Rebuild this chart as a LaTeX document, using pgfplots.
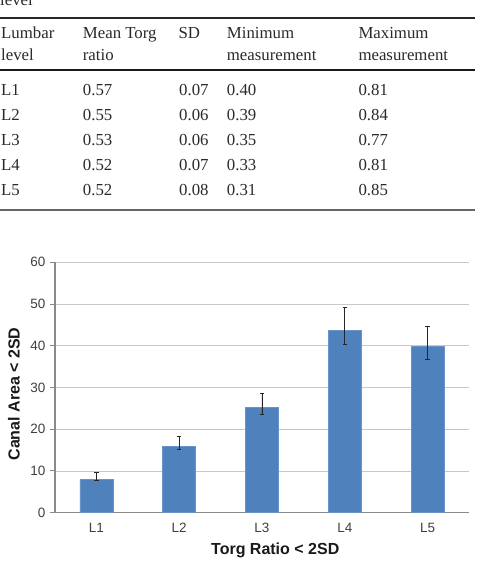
\documentclass[border=0pt]{standalone}
\usepackage{fontspec}
\setmainfont{Liberation Serif}
\newfontfamily\arial{Liberation Sans}
\usepackage{pgfplots}
\usepackage{pgfplotstable}
\pgfplotsset{compat=1.18}
\definecolor{barblue}{HTML}{4F81BD}
\definecolor{gridgray}{HTML}{C8C8C8}
\definecolor{axisgray}{HTML}{8A8A8A}
\definecolor{ticktext}{HTML}{404040}
\definecolor{tabtext}{HTML}{2A2A2A}
\pgfplotstableread{
x y ep em
0 8.0 1.7 0.3
1 15.9 2.4 0.7
2 25.2 3.3 1.6
3 43.7 5.4 3.4
4 39.8 4.8 3.1
}\canaldata
\begin{document}
\begin{tikzpicture}[x=1pt,y=1pt]
\useasboundingbox (0pt,0pt) rectangle (477pt,-565pt);
% table
\begin{scope}[every node/.style={anchor=base west, inner sep=0pt, text=tabtext, font=\fontsize{16.8}{20}\selectfont}]
\node at (0pt,-5.5pt) {level};
\draw[color=black!85, line width=1.4pt] (0pt,-18pt) -- (475pt,-18pt);
\node at (1pt,-38.3pt) {Lumbar};
\node at (1pt,-60pt) {level};
\node at (82.7pt,-38.3pt) {Mean Torg};
\node at (82.7pt,-60pt) {ratio};
\node at (178.3pt,-38.3pt) {SD};
\node at (226.7pt,-38.3pt) {Minimum};
\node at (226.7pt,-60pt) {measurement};
\node at (358.3pt,-38.3pt) {Maximum};
\node at (358.3pt,-60pt) {measurement};
\draw[color=black!90, line width=2pt] (0pt,-70.3pt) -- (475pt,-70.3pt);
\node at (1pt,-95.7pt) {L1}; \node at (82.7pt,-95.7pt) {0.57}; \node at (179pt,-95.7pt) {0.07}; \node at (226.7pt,-95.7pt) {0.40}; \node at (358.3pt,-95.7pt) {0.81};
\node at (1pt,-120.7pt) {L2}; \node at (82.7pt,-120.7pt) {0.55}; \node at (179pt,-120.7pt) {0.06}; \node at (226.7pt,-120.7pt) {0.39}; \node at (358.3pt,-120.7pt) {0.84};
\node at (1pt,-145.6pt) {L3}; \node at (82.7pt,-145.6pt) {0.53}; \node at (179pt,-145.6pt) {0.06}; \node at (226.7pt,-145.6pt) {0.35}; \node at (358.3pt,-145.6pt) {0.77};
\node at (1pt,-170.6pt) {L4}; \node at (82.7pt,-170.6pt) {0.52}; \node at (179pt,-170.6pt) {0.07}; \node at (226.7pt,-170.6pt) {0.33}; \node at (358.3pt,-170.6pt) {0.81};
\node at (1pt,-195.6pt) {L5}; \node at (82.7pt,-195.6pt) {0.52}; \node at (179pt,-195.6pt) {0.08}; \node at (226.7pt,-195.6pt) {0.31}; \node at (358.3pt,-195.6pt) {0.85};
\draw[color=black!60, line width=1.5pt] (0pt,-210pt) -- (475pt,-210pt);
\end{scope}
% chart
\begin{axis}[
  at={(55pt,-512.7pt)}, anchor=south west,
  scale only axis, width=414pt, height=250.4pt,
  xmin=-0.5, xmax=4.5, ymin=0, ymax=60,
  axis x line*=bottom, axis y line*=left,
  axis line style={color=axisgray, line width=1.2pt},
  xtick=data, xticklabels={L1,L2,L3,L4,L5},
  xtick style={draw=none},
  ytick={0,10,...,60},
  ytick style={color=axisgray, line width=1pt},
  tick align=outside, major tick length=5pt,
  ymajorgrids, grid style={color=gridgray, line width=0.9pt},
  /pgf/number format/assume math mode=true,
  ticklabel style={font=\arial\fontsize{13.5}{15}\selectfont, text=ticktext},
  xticklabel style={yshift=-1.5pt},
  yticklabel style={xshift=-1pt},
  xlabel={Torg Ratio < 2SD},
  ylabel={Canal Area < 2SD},
  label style={font=\arial\bfseries\fontsize{16}{18}\selectfont, text=black!90},
  xlabel style={at={(axis description cs:0.532,-0.149)}, anchor=center},
  ylabel style={at={(axis description cs:-0.099,0.474)}, anchor=center, rotate=0},
]
\addplot[ybar, bar width=0.4, fill=barblue, draw=barblue!85!white, line width=0.6pt,
  error bars/.cd, y dir=both, y explicit,
  error bar style={color=black!85, line width=0.9pt},
  error mark options={rotate=90, mark size=2.2pt, color=black!85, line width=0.9pt}]
  table[x=x, y=y, y error plus=ep, y error minus=em] {\canaldata};
\end{axis}
\end{tikzpicture}
\end{document}
